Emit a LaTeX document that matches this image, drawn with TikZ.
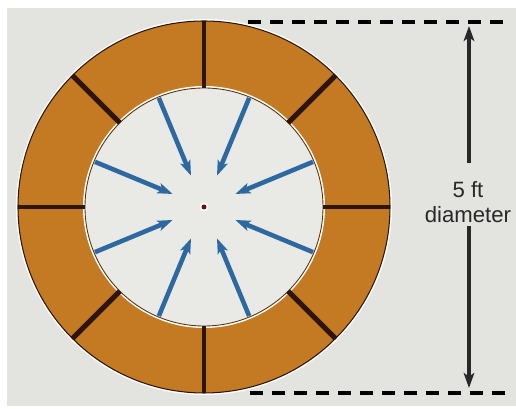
\documentclass[tikz,border=0pt]{standalone}
\usepackage{fontspec}
\setmainfont{Liberation Sans}
\usetikzlibrary{arrows.meta, calc}
\definecolor{papelito}{RGB}{227,227,224}
\definecolor{naranjita}{RGB}{196,122,34}
\definecolor{cafecito}{RGB}{45,22,8}
\definecolor{azulcito}{RGB}{45,104,160}
\definecolor{grisito}{RGB}{40,40,40}
\tikzset{>={Stealth[length=8.5pt,width=6pt,inset=2pt]}}
\tikzset{
  flowarrow/.style={->,azulcito,line width=2.6pt},
  spacer/.style={cafecito,line width=1.9pt},
  widespacer/.style={spacer,line width=2.9pt},
  endline/.style={black,line width=2.2pt,dash pattern=on 7.4pt off 5.1pt},
  sizearrow/.style={->,grisito,line width=2.2pt},
}

\begin{document}
\begin{tikzpicture}
        \useasboundingbox (-4.08,-4.04) rectangle (6.24,4.14);
        \fill[papelito] (-3.94,-3.98) rectangle (6.24,3.98);
        % Ring and core
        \fill[white] (0,0) circle (3.76);
        \fill[naranjita,draw=cafecito,line width=0.6pt] (0,0) circle (3.72);
        \fill[white] (0,0) circle (2.42);
        \fill[papelito!80!white,draw=cafecito!70!naranjita,line width=0.5pt] (0,0) circle (2.38);
        % Spacers
        \foreach \a in {0,90,180,270}{
          \coordinate (in\a) at (\a:2.38);
          \coordinate (out\a) at (\a:3.72);
          \draw[spacer] (in\a) -- (out\a);
        }
        \foreach \a in {45,135,225,315}{
          \coordinate (in\a) at (\a:2.38);
          \coordinate (out\a) at (\a:3.72);
          \draw[widespacer] (in\a) -- (out\a);
        }
        % Inward flow
        \foreach \n in {0,...,7}{
          \coordinate (rim\n) at (22.5+45*\n:2.36);
          \coordinate (tip\n) at (22.5+45*\n:0.68);
          \draw[flowarrow] (rim\n) -- (tip\n);
        }
        \fill[white] (0,0) circle (0.09);
        \fill[cafecito!70!red] (0,0) circle (0.05);
        % Diameter
        \coordinate (topa) at (0.88,3.70);
        \coordinate (topb) at (5.98,3.70);
        \coordinate (bota) at (0.92,-3.72);
        \coordinate (botb) at (6.02,-3.72);
        \draw[endline] (topa) -- (topb);
        \draw[endline] (bota) -- (botb);
        \node[align=center,font=\fontsize{12.6}{14.5}\selectfont,text=grisito,inner sep=0pt] (size) at (5.28,0.10) {5 ft\\diameter};
        \coordinate (uptip) at (5.30,3.62);
        \coordinate (downtip) at (5.30,-3.62);
        \coordinate (upend) at (5.30,0.88);
        \coordinate (downend) at (5.30,-0.38);
        \draw[sizearrow] (upend) -- (uptip);
        \draw[sizearrow] (downend) -- (downtip);
      \end{tikzpicture}
\end{document}
